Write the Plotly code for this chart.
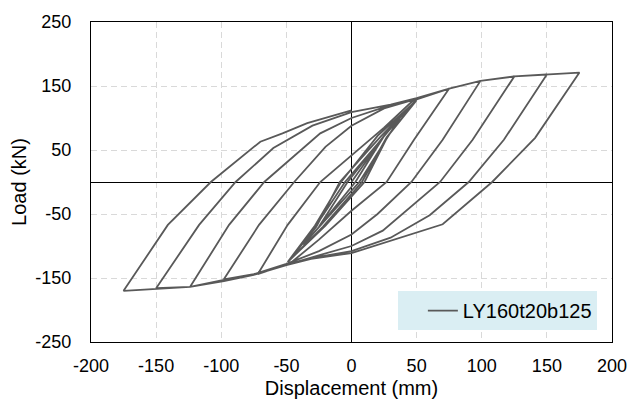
import plotly.graph_objects as go

SERIES_NAME = "LY160t20b125"

# Small elastic cycles before yielding (displacement mm, load kN)
pre_x = [0, 25, 3, -25, -3, 25, 37, 6, -37, -5, 37]
pre_y = [0, 72, 0, -70, 0, 72, 100, 0, -98, 0, 100]

# Two cycles at +/-50 mm
c50_x = [50, 27, 8, -22, -49, -28, -8, 20, 50, 28, 10, -20, -49, -27, -9, 22, 50]
c50_y = [128, 70, 0, -70, -125, -68, 0, 72, 128, 72, 0, -68, -125, -70, 0, 70, 129]

# Cycle at +/-75 mm
c75_x = [75, 48, 27, 0, -25, -47, -72, -49, -24, 0, 25, 47]
c75_y = [146, 66, 0, -45, -90, -127, -144, -67, 0, 42, 85, 127]

# Cycle at +/-100 mm
c100_x = [75, 99, 70, 46, 20, 0, -25, -50, -75, -98, -71, -44, -20, 0, 25, 50, 75, 99]
c100_y = [146, 158, 66, 0, -50, -82, -108, -128, -144, -152, -67, 0, 55, 88, 115, 130, 146, 158]

# Cycle at +/-125 mm
c125_x = [125, 93, 68, 24, 0, -31, -50, -75, -98, -124, -94, -67, -24, 0, 30, 50, 75, 99, 125]
c125_y = [165, 66, 0, -76, -100, -118, -129, -144, -153, -164, -67, 0, 76, 100, 120, 131, 146, 158, 165]

# Cycle at +/-150 mm
c150_x = [150, 117, 90, 60, 30, 0, -31, -50, -75, -98, -124, -150,
          -117, -89, -60, -30, 0, 30, 50, 75, 99, 125, 150]
c150_y = [168, 66, 0, -52, -87, -108, -119, -129, -144, -154, -164, -166,
          -67, 0, 53, 88, 109, 121, 131, 146, 158, 165, 168]

# Cycle at +/-175 mm
c175_x = [175, 141, 108, 70, 53, 30, 0, -31, -50, -75, -98, -124, -150, -175,
          -141, -108, -70, -53, -34, 0]
c175_y = [171, 69, 0, -66, -77, -92, -111, -120, -130, -145, -155, -164, -167, -170,
          -67, 0, 63, 76, 92, 112]

x_ticks = [-200, -150, -100, -50, 0, 50, 100, 150, 200]
x_labels = ["-200", "-150", "-100", "-50", "0", "50", "100", "150", "200"]
y_ticks = [-250, -150, -50, 50, 150, 250]
y_labels = ["-250", "-150", "-50", "50", "150", "250"]

disp = pre_x + c50_x + c75_x + c100_x + c125_x + c150_x + c175_x
load = pre_y + c50_y + c75_y + c100_y + c125_y + c150_y + c175_y

FONT = "Liberation Sans, Arial, sans-serif"
GRID = "#D9D9D9"

fig = go.Figure()
fig.add_trace(go.Scatter(
    x=disp, y=load, mode="lines", name=SERIES_NAME,
    line=dict(color="#595959", width=1.8),
    showlegend=True,
))

axis_common = dict(
    showgrid=True, gridcolor=GRID, gridwidth=1.3, griddash="6px,4px",
    zeroline=True, zerolinecolor="black", zerolinewidth=1.3,
    showline=True, linecolor="black", linewidth=1.3, mirror=True,
    ticks="outside", tickcolor="rgba(0,0,0,0)",
    tickfont=dict(family=FONT, size=18, color="black"),
    automargin=False,
)

fig.update_xaxes(
    range=[-200, 200], tickvals=x_ticks, ticktext=x_labels, ticklen=7,
    title=dict(text="Displacement (mm)", font=dict(family=FONT, size=20, color="black"), standoff=6),
    **axis_common,
)
fig.update_yaxes(
    range=[-250, 250], tickvals=y_ticks, ticktext=y_labels, ticklen=15,
    title=dict(text="Load (kN)", font=dict(family=FONT, size=20, color="black"), standoff=3),
    **axis_common,
)

fig.update_layout(
    width=630, height=412,
    margin=dict(l=91, r=18, t=22, b=70),
    paper_bgcolor="white", plot_bgcolor="white",
    font=dict(family=FONT, color="black"),
    legend=dict(
        x=0.589, y=0.159, xanchor="left", yanchor="top",
        bgcolor="#DAEEF3", borderwidth=0,
        font=dict(family=FONT, size=20, color="black"),
        indentation=25, entrywidth=146,
    ),
)

fig.write_html("out.html")
